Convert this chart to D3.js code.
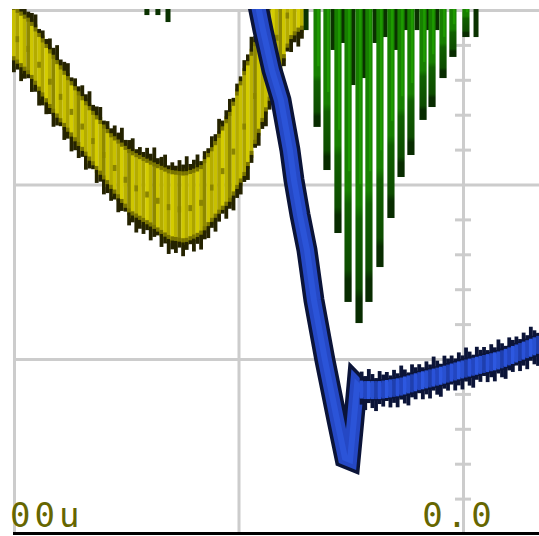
<!DOCTYPE html>
<html><head><meta charset="utf-8">
<script src="https://cdn.jsdelivr.net/npm/d3@7"></script>
<style>html,body{margin:0;padding:0;background:#fff;overflow:hidden}</style>
</head><body>
<svg id="c" width="539" height="536"></svg>
<script>
// time in µs (1 div = 100 µs), voltage in mV (1 div = 100 mV)
const xLabelValues = [-200, 0];
const xLabels = ["00u", "0.0"];
const gridTimes = [-200, -100, 0];
const gridVolts = [100, 200, 300];
const minorVolts = [20, 40, 60, 80, 120, 140, 160, 180, 220, 240, 260, 280];

const yellowTime   = [-200, -192.9, -184.0, -175.1, -166.1, -157.2, -148.3, -139.4, -130.5, -123.8, -117.1, -110.5, -103.8, -97.1, -90.4, -83.7, -77.1, -72.6];
const yellowTop    = [304, 296.5, 279.0, 262.0, 246.0, 231.5, 221.5, 215.5, 210.0, 209.0, 212.0, 226.0, 243.5, 268.0, 291.0, 312, 322, 330];
const yellowBottom = [269.5, 260.5, 242.0, 227.0, 211.5, 196.5, 181.5, 174.5, 166.5, 165.0, 169.0, 179.0, 188.5, 204.0, 230.5, 256.0, 281.0, 287.0];

const blueTime = [-91.8, -89.1, -85.1, -81.1, -77.1, -75.3, -72.6, -69.5, -66.4, -61.5, -56.1, -52.6, -50.3, -48.6, -47.2, -45.0, -37.0, -28.1, -19.2, -10.2, -1.3, 7.6, 16.5, 25.4, 36.5];
const blueVolt = [305.7, 288.5, 265.6, 248.4, 219.8, 202.6, 182.5, 162.5, 133.8, 99.4, 65.0, 43.3, 42.1, 65.0, 85.1, 82.2, 82.2, 84.0, 87.4, 90.3, 93.7, 96.6, 99.4, 104.0, 109.7];

const greenTime = [-65.0, -60.6, -55.7, -51.2, -46.3, -41.9, -37.0, -32.1, -27.6, -23.2, -17.8, -13.8, -8.9, -4.5, 1.3];
const greenLow  = [233.0, 208.3, 172.2, 132.7, 120.6, 132.7, 152.7, 180.8, 204.3, 216.9, 237.0, 244.4, 261.0, 273.1, 284.5];
const greenHigh = 320;
const stubTime = [-69.9, -57.9, -53.5, -49.0, -44.1, -39.2, -34.7, -29.8, -25.4, -20.5, -16.0, -11.6, 5.8, -140.8, -135.9, -131.4];
const stubLow  = [288.5, 277.1, 281.1, 257.0, 261.0, 281.1, 284.5, 277.1, 288.5, 288.5, 288.5, 288.5, 284.5, 297.1, 297.1, 293.1];

const svg = d3.select("#c");
const x = d3.scaleLinear().domain([-200, 0]).range([14, 463]);
const y = d3.scaleLinear().domain([0, 300]).range([533.5, 10]);
const right = 539;
const COL = 3.6; // display column width of the scope raster

const defs = svg.append("defs");
defs.append("clipPath").attr("id", "plot").append("rect")
  .attr("x", 12).attr("y", 9).attr("width", right - 12).attr("height", 524);
const gg = defs.append("linearGradient").attr("id", "ggrad").attr("x1", 0).attr("y1", 0).attr("x2", 0).attr("y2", 1);
[[0, "#178000"], [0.66, "#178000"], [0.7, "#106000"], [0.9, "#0d4c00"], [0.93, "#082c00"], [1, "#082c00"]]
  .forEach(([o, c]) => gg.append("stop").attr("offset", o).attr("stop-color", c));

// grid via axes
const gx = svg.append("g").attr("transform", `translate(0,${y(0)})`)
  .call(d3.axisBottom(x).tickValues(gridTimes).tickSize(-(y(0) - y(300))).tickFormat(""));
gx.select(".domain").remove();
gx.selectAll("line").attr("stroke", "#cccccc").attr("stroke-width", 3);

const gy = svg.append("g").attr("transform", `translate(${x(-200)},0)`)
  .call(d3.axisLeft(y).tickValues(gridVolts).tickSize(-(right - x(-200))).tickFormat(""));
gy.select(".domain").remove();
gy.selectAll("line").attr("stroke", "#cccccc").attr("stroke-width", 3);

const gm = svg.append("g").attr("transform", `translate(${x(0) - 8},0)`)
  .call(d3.axisRight(y).tickValues(minorVolts).tickSize(16).tickFormat(""));
gm.select(".domain").remove();
gm.selectAll("line").attr("stroke", "#cccccc").attr("stroke-width", 3);

const plot = svg.append("g").attr("clip-path", "url(#plot)");

// yellow band, drawn as raster columns between the read envelopes
const yTopAt = d3.scaleLinear().domain(yellowTime).range(yellowTop).clamp(true);
const yBotAt = d3.scaleLinear().domain(yellowTime).range(yellowBottom).clamp(true);
const yCols = d3.range(x(-200) - 2, x(yellowTime[yellowTime.length - 1]), COL);
const yPal = ["#c8c000", "#aca400", "#d4cc00", "#bab200", "#8e8800", "#cec600", "#b4ac00"];
const extT = [2, 8, 4, 12, 3, 6, 10, 1, 5];
const extB = [9, 3, 11, 5, 1, 10, 4, 12, 6];
const yg = plot.append("g");
yCols.forEach((cx, i) => {
  const t = x.invert(cx + COL / 2);
  const top = y(yTopAt(t)), bot = y(yBotAt(t));
  yg.append("rect").attr("x", cx).attr("width", COL + 0.2).attr("y", top).attr("height", Math.max(0, bot - top)).attr("fill", yPal[i % yPal.length]);
  yg.append("rect").attr("x", cx).attr("width", COL + 0.2).attr("y", top + 3).attr("height", 4).attr("fill", "#7a7400");
  yg.append("rect").attr("x", cx).attr("width", COL + 0.2).attr("y", bot - 7).attr("height", 4).attr("fill", "#7a7400");
  yg.append("rect").attr("x", cx).attr("width", COL + 0.2).attr("y", top - extT[i % extT.length]).attr("height", extT[i % extT.length] + 3).attr("fill", "#252300");
  yg.append("rect").attr("x", cx).attr("width", COL + 0.2).attr("y", bot - 3).attr("height", extB[i % extB.length] + 3).attr("fill", "#252300");
  if (i % 3 === 1) yg.append("rect").attr("x", cx).attr("width", COL + 0.2).attr("y", (top + bot) / 2).attr("height", 6).attr("fill", "#8a8400");
});

// blue trace
const bdata = blueTime.map((t, i) => ({t, v: blueVolt[i]}));
const bline = d3.line().x(d => x(d.t)).y(d => y(d.v));
plot.append("path").datum(bdata).attr("d", bline).attr("fill", "none")
  .attr("stroke", "#0b1438").attr("stroke-width", 21).attr("stroke-linejoin", "miter");
plot.append("path").datum(bdata).attr("d", bline).attr("fill", "none")
  .attr("stroke", "#2548c4").attr("stroke-width", 14).attr("stroke-linejoin", "miter");
plot.append("path").datum(bdata).attr("d", bline).attr("fill", "none")
  .attr("stroke", "#2b54d8").attr("stroke-width", 6);
// noisy flat section of the blue trace as raster columns
const bAt = d3.scaleLinear().domain(blueTime).range(blueVolt);
const bCols = d3.range(x(-46), right, COL);
const bPal = ["#2a52d8", "#2346c0", "#2d58e0", "#2850d0", "#1f3fae"];
const bExtT = [6, 2, 9, 4, 0, 7, 3, 5, 1];
const bExtB = [3, 8, 1, 6, 9, 2, 5, 0, 7];
const bg = plot.append("g");
bCols.forEach((cx, i) => {
  const c = y(bAt(x.invert(cx + COL / 2)));
  bg.append("rect").attr("x", cx).attr("width", COL + 0.2).attr("y", c - 12 - bExtT[i % bExtT.length]).attr("height", bExtT[i % bExtT.length] + 4).attr("fill", "#0b1438");
  bg.append("rect").attr("x", cx).attr("width", COL + 0.2).attr("y", c + 8).attr("height", bExtB[i % bExtB.length] + 4).attr("fill", "#0b1438");
  bg.append("rect").attr("x", cx).attr("width", COL + 0.2).attr("y", c - 9).attr("height", 18).attr("fill", bPal[i % bPal.length]);
});

// green stubs
plot.selectAll("rect.stub").data(stubTime.map((t, i) => ({t, lo: stubLow[i]}))).join("rect")
  .attr("class", "stub").attr("x", d => x(d.t) - 2.5).attr("width", 5)
  .attr("y", y(greenHigh)).attr("height", d => y(d.lo) - y(greenHigh)).attr("fill", "#0a3200");

// green bars
const gdata = greenTime.map((t, i) => ({t, lo: greenLow[i]}));
const gb = plot.selectAll("g.gbar").data(gdata).join("g").attr("class", "gbar");
gb.append("rect").attr("x", d => x(d.t) - 3.6).attr("width", 7.2)
  .attr("y", y(greenHigh)).attr("height", d => y(d.lo) - y(greenHigh)).attr("fill", "url(#ggrad)");
gb.append("rect").attr("x", d => x(d.t)).attr("width", 2.4)
  .attr("y", y(greenHigh)).attr("height", d => Math.max(0, (y(d.lo) - y(greenHigh)) * 0.6)).attr("fill", "#1e9a00");

// bottom axis line
svg.append("line").attr("x1", x(-200) - 1).attr("x2", right).attr("y1", y(0)).attr("y2", y(0))
  .attr("stroke", "#000").attr("stroke-width", 3);

// labels
svg.selectAll("text.lab").data(xLabelValues).join("text").attr("class", "lab")
  .attr("x", d => x(d) - 4).attr("y", 527)
  .attr("text-anchor", (d, i) => i === 0 ? "start" : "middle")
  .attr("font-family", "DejaVu Sans Mono, monospace").attr("font-size", 34)
  .attr("letter-spacing", 4).attr("fill", "#666600")
  .text((d, i) => xLabels[i]);
</script>
</body></html>
